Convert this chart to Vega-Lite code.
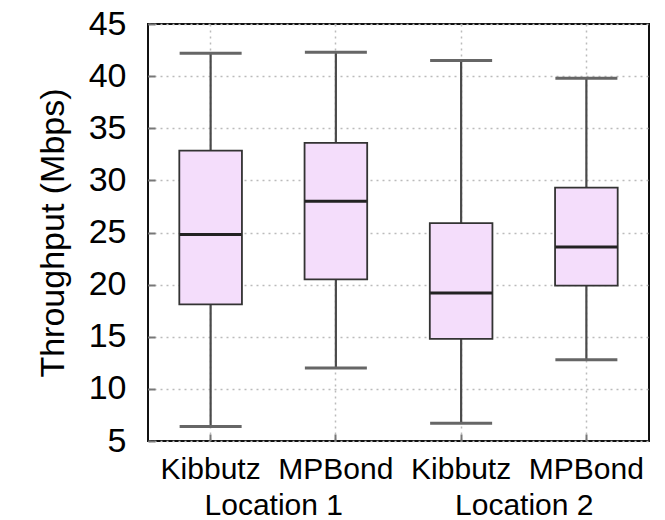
{
  "$schema": "https://vega.github.io/schema/vega-lite/v6.json",
  "width": 501,
  "height": 417,
  "autosize": "none",
  "padding": {"left": 148, "top": 24, "right": 16, "bottom": 79},
  "config": {
    "font": "Liberation Sans",
    "view": {"stroke": "#111", "strokeWidth": 2},
    "axis": {"labelFont": "Liberation Sans", "titleFont": "Liberation Sans", "labelColor": "#000", "titleColor": "#000"}
  },
  "data": {
    "values": [
      {"cat": "K1", "loc": "Location 1", "lo": 6.4, "q1": 18.1, "med": 24.8, "q3": 32.85, "hi": 42.2},
      {"cat": "M1", "loc": "Location 1", "lo": 12.0, "q1": 20.5, "med": 28.0, "q3": 33.6, "hi": 42.3},
      {"cat": "K2", "loc": "Location 2", "lo": 6.7, "q1": 14.8, "med": 19.2, "q3": 25.9, "hi": 41.5},
      {"cat": "M2", "loc": "Location 2", "lo": 12.8, "q1": 19.9, "med": 23.6, "q3": 29.3, "hi": 39.8}
    ]
  },
  "layer": [
    {
      "encoding": {
        "x": {
          "field": "cat", "type": "nominal", "sort": ["K1", "M1", "K2", "M2"],
          "scale": {"paddingInner": 0, "paddingOuter": 0},
          "axis": {
            "title": null, "labelAngle": 0, "domain": false,
            "labelExpr": "(datum.value == 'K1' || datum.value == 'K2') ? 'Kibbutz' : 'MPBond'",
            "labelFontSize": 30, "labelPadding": 20,
            "tickSize": -7, "tickColor": "#777", "tickWidth": 2,
            "grid": true, "gridDash": [2, 4], "gridColor": "#bbb", "gridWidth": 1.5,
            "bandPosition": 0.5
          }
        }
      },
      "layer": [
        {
          "mark": {"type": "rule", "color": "#4a4a4a", "strokeWidth": 2.2},
          "encoding": {
            "y": {
              "field": "lo", "type": "quantitative",
              "scale": {"domain": [5, 45], "nice": false, "zero": false},
              "axis": {
                "title": "Throughput (Mbps)", "titleFontSize": 34, "titleFontWeight": "normal", "titlePadding": 18,
                "values": [5, 10, 15, 20, 25, 30, 35, 40, 45],
                "labelFontSize": 34, "labelPadding": 29, "domain": false,
                "tickSize": -7, "tickColor": "#777", "tickWidth": 2,
                "grid": true, "gridDash": [2, 4], "gridColor": "#bbb", "gridWidth": 1.5
              }
            },
            "y2": {"field": "hi"}
          }
        },
        {
          "mark": {"type": "bar", "fill": "#f4ddfb", "stroke": "#333", "strokeWidth": 1.8, "width": {"band": 0.5}},
          "encoding": {
            "y": {"field": "q1", "type": "quantitative"},
            "y2": {"field": "q3"}
          }
        },
        {
          "mark": {"type": "tick", "color": "#222", "thickness": 3, "size": 62, "opacity": 1},
          "encoding": {"y": {"field": "med", "type": "quantitative"}}
        },
        {
          "mark": {"type": "tick", "color": "#666", "thickness": 3, "size": 62, "opacity": 1},
          "encoding": {"y": {"field": "lo", "type": "quantitative"}}
        },
        {
          "mark": {"type": "tick", "color": "#666", "thickness": 3, "size": 62, "opacity": 1},
          "encoding": {"y": {"field": "hi", "type": "quantitative"}}
        }
      ]
    },
    {
      "mark": {"type": "point", "opacity": 0},
      "encoding": {
        "x": {
          "field": "loc", "type": "nominal",
          "scale": {"paddingInner": 0, "paddingOuter": 0},
          "axis": {
            "orient": "bottom", "title": null, "labelAngle": 0, "domain": false, "ticks": false, "grid": false,
            "labelFontSize": 30, "labelPadding": 49
          }
        },
        "y": {"field": "med", "type": "quantitative"}
      }
    }
  ],
  "resolve": {"scale": {"x": "independent"}, "axis": {"x": "independent"}}
}
